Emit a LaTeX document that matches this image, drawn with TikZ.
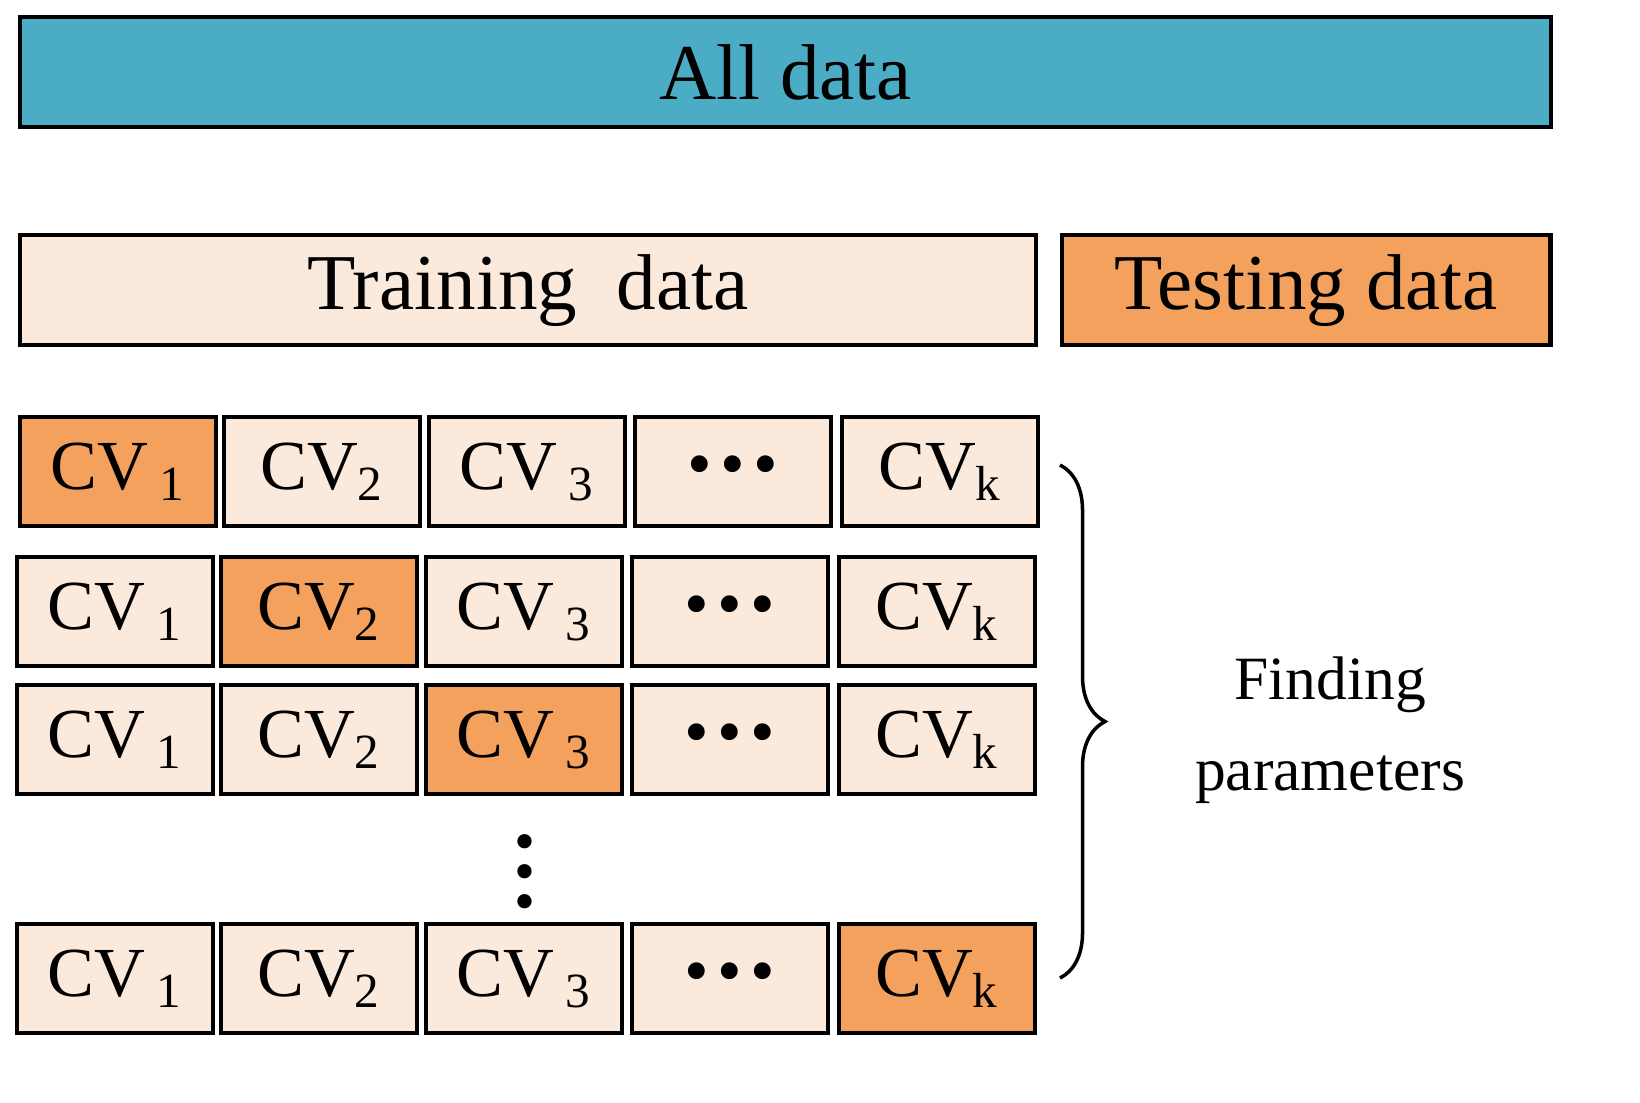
\documentclass[tikz,border=0pt]{standalone}
\usepackage{fontspec}
\setmainfont{Liberation Serif}
\usetikzlibrary{positioning, decorations.pathreplacing}
\definecolor{alldata}{HTML}{4BACC6}
\definecolor{light}{HTML}{FBE9DC}
\definecolor{dark}{HTML}{F4A15D}
\newcommand{\hdots}{\textbullet\hspace{0.12em}\textbullet\hspace{0.12em}\textbullet}
\begin{document}
\begin{tikzpicture}[x=0.01cm, y=-0.01cm,
        box/.style={draw, line width=1.2pt, rectangle, anchor=north west, inner sep=0pt},
        cv/.style={box, minimum width=1.96cm, minimum height=1.09cm, fill=light, font=\fontsize{20}{24}\selectfont},
        hot/.style={fill=dark},
        bar/.style={box, minimum height=1.1cm, font=\fontsize{22.5}{26}\selectfont}
    ]
    % Top bars
    \node[bar, fill=alldata, minimum width=15.3cm] (all) at (18,15) {All data};
    \node[bar, fill=light, minimum width=10.15cm] (train) at (18,233) {Training\ \ data};
    \node[bar, fill=dark, minimum width=4.88cm] (test) at (1060,233) {Testing data};

    % CV rows
    \foreach \r/\y/\dx/\h in {1/415/0/1, 2/555/-3/2, 3/683/-3/3, 4/922/-3/5}{
        \foreach \c/\x/\t in {1/18/CV\,\textsubscript{1}, 2/222/CV\textsubscript{2}, 3/427/CV\,\textsubscript{3}, 4/633/\hdots, 5/840/CV\textsubscript{k}}{
            \ifnum\c=\h
                \node[cv, hot] (cv\r\c) at (\x+\dx,\y) {\t};
            \else
                \node[cv] (cv\r\c) at (\x+\dx,\y) {\t};
            \fi
        }
    }
    \node[align=center, inner sep=0pt, font=\fontsize{17}{6.5}\selectfont] (vdots) at (525,878) {\textbullet\\\textbullet\\\textbullet};

    % Brace
    \coordinate (btop) at (1060,465);
    \coordinate (bbot) at (1060,978);
    \draw[line width=1pt, decorate, decoration={brace, amplitude=0.45cm}] (btop) -- (bbot);
    \node[align=center, font=\fontsize{17.5}{26}\selectfont] (find) at (1330,730) {Finding\\parameters};
    \pgfresetboundingbox
    \useasboundingbox (0,0) rectangle (1640,1102);
\end{tikzpicture}
\end{document}
